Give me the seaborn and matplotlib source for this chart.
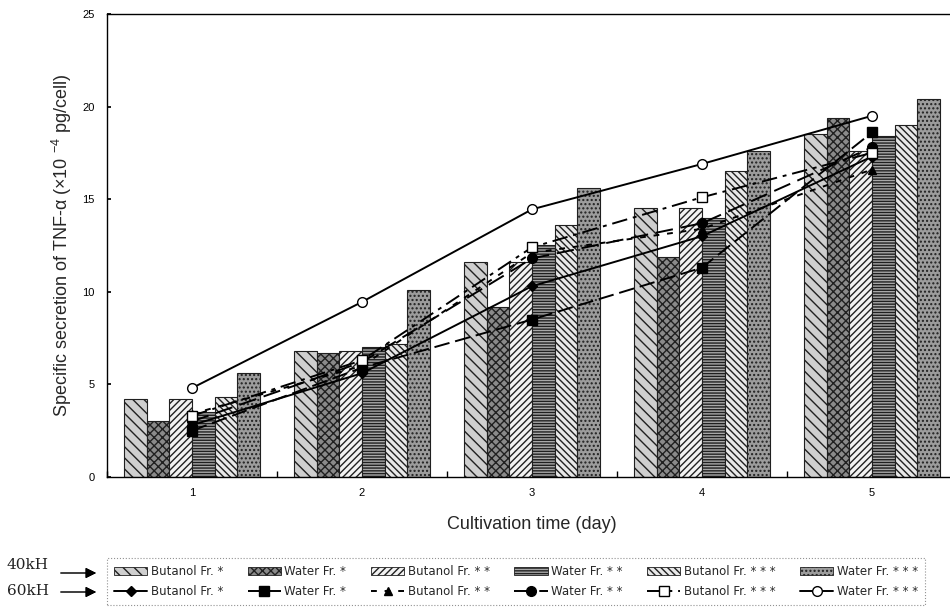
import numpy as np
import pandas as pd
import matplotlib
matplotlib.use("Agg")
import matplotlib.pyplot as plt
from matplotlib.patches import Patch
from matplotlib.lines import Line2D
from matplotlib.ticker import FixedLocator
import seaborn as sns

# ---- data -------------------------------------------------------------
days = ["1", "2", "3", "4", "5"]
series = ["Butanol Fr. *", "Water Fr. *", "Butanol Fr. * *",
          "Water Fr. * *", "Butanol Fr. * * *", "Water Fr. * * *"]

# 40 kHz (bars)
bar_butanol_1 = [4.2, 6.8, 11.6, 14.5, 18.5]
bar_water_1 = [3.0, 6.7, 9.2, 11.9, 19.4]
bar_butanol_2 = [4.2, 6.8, 11.6, 14.5, 17.6]
bar_water_2 = [3.5, 7.0, 12.5, 14.0, 18.4]
bar_butanol_3 = [4.3, 7.2, 13.6, 16.5, 19.0]
bar_water_3 = [5.6, 10.1, 15.6, 17.6, 20.4]

# 60 kHz (lines)
line_butanol_1 = [2.8, 5.6, 10.3, 13.0, 17.3]
line_water_1 = [2.5, 5.9, 8.5, 11.3, 18.6]
line_butanol_2 = [3.4, 6.0, 12.1, 13.4, 16.6]
line_water_2 = [3.0, 6.2, 11.8, 13.7, 17.8]
line_butanol_3 = [3.3, 6.3, 12.4, 15.1, 17.5]
line_water_3 = [4.8, 9.45, 14.45, 16.9, 19.5]

bar_values = [bar_butanol_1, bar_water_1, bar_butanol_2,
              bar_water_2, bar_butanol_3, bar_water_3]
line_values = [line_butanol_1, line_water_1, line_butanol_2,
               line_water_2, line_butanol_3, line_water_3]

df = pd.DataFrame({
    "day": np.repeat([days], len(series), axis=0).ravel(),
    "series": np.repeat(series, len(days)),
    "value": np.concatenate(bar_values),
})

# ---- style ------------------------------------------------------------
sns.set_theme(style="white")
plt.rcParams["font.family"] = ["Liberation Sans", "DejaVu Sans"]
plt.rcParams["mathtext.fontset"] = "custom"
plt.rcParams["mathtext.rm"] = "Liberation Sans"
plt.rcParams["hatch.linewidth"] = 1.0

bar_faces = ["#cfcfcf", "#8a8a8a", "#f2f2f2", "#a8a8a8", "#e8e8e8", "#9c9c9c"]
bar_hatches = ["\\\\\\", "xxxx", "/////", "------", "\\\\\\\\\\", "...."]

line_styles = ["-", (0, (8, 3)), (0, (3, 4)), (0, (9, 4)), (0, (8, 3, 2, 3)), "-"]
line_markers = ["D", "s", "^", "o", "s", "o"]
marker_faces = ["black", "black", "black", "black", "white", "white"]
marker_sizes = [5, 7, 6, 7, 7, 7]

fig = plt.figure(figsize=(9.5, 6.07), dpi=100)
ax = fig.add_axes([0.1126, 0.2142, 0.8947, 0.7628])

sns.barplot(data=df, x="day", y="value", hue="series", order=days,
            hue_order=series, palette=bar_faces, width=0.8,
            edgecolor="black", linewidth=0.8, saturation=1,
            legend=False, errorbar=None, ax=ax)

for cont, hatch, face in zip(ax.containers, bar_hatches, bar_faces):
    for patch in cont:
        patch.set_hatch(hatch)
        patch.set_facecolor(face)
        patch.set_edgecolor("#202020")

pos = np.arange(len(days))
for vals, ls, mk, mf, ms in zip(line_values, line_styles, line_markers,
                                 marker_faces, marker_sizes):
    ax.plot(pos, vals, color="black", linestyle=ls, linewidth=1.4,
            marker=mk, markerfacecolor=mf, markeredgecolor="black",
            markersize=ms, zorder=5)

ax.set_xlim(-0.5, 4.5)
ax.set_ylim(0, 25)
ax.set_yticks([0, 5, 10, 15, 20, 25])
# category ticks sit between the day groups
ax.xaxis.set_minor_locator(FixedLocator(np.arange(-0.5, 5.0, 1.0)))
ax.tick_params(axis="x", which="major", length=0, pad=8, labelsize=8,
               colors="black")
ax.tick_params(axis="x", which="minor", direction="in", length=4,
               bottom=True, color="black")
ax.tick_params(axis="y", direction="in", length=3, pad=9, labelsize=8,
               left=True, colors="black")
for name, sp in ax.spines.items():
    sp.set_color("black")
    sp.set_linewidth(1.0)

ax.set_xlabel("Cultivation time (day)", fontsize=13, labelpad=13)
ax.set_ylabel("Specific secretion of TNF-α (×10 $^{-4}$ pg/cell)",
              fontsize=13, labelpad=6)

# ---- legend: bars on the first row, lines on the second ---------------
handles, labels = [], []
for i in range(len(series)):
    handles.append(Patch(facecolor=bar_faces[i], hatch=bar_hatches[i],
                         edgecolor="#202020", linewidth=0.6))
    labels.append(series[i])
    handles.append(Line2D([0], [0], color="black", linestyle=line_styles[i],
                          linewidth=1.4, marker=line_markers[i],
                          markerfacecolor=marker_faces[i],
                          markeredgecolor="black", markersize=marker_sizes[i]))
    labels.append(series[i])

leg = fig.legend(handles, labels, ncol=6, loc="upper left",
                 bbox_to_anchor=(0.1126, 1 - 558 / 607),
                 frameon=True, fancybox=False,
                 prop={"family": ["Liberation Sans Narrow", "DejaVu Sans"],
                       "size": 8.5},
                 handlelength=2.8, handleheight=0.6, handletextpad=0.3,
                 columnspacing=2.1, labelspacing=0.6, borderpad=0.6,
                 borderaxespad=0)
leg.get_frame().set_edgecolor("#777777")
leg.get_frame().set_linestyle(":")
leg.get_frame().set_linewidth(0.8)

for txt, ty, ay in [("40kH", 1 - 565 / 607, 1 - 573 / 607),
                    ("60kH", 1 - 591 / 607, 1 - 592 / 607)]:
    fig.text(0.007, ty, txt, fontsize=11, family="DejaVu Serif",
             va="center", ha="left", color="#222222")
    fig.add_artist(plt.annotate(
        "", xy=(0.104, ay), xytext=(0.061, ay), xycoords="figure fraction",
        arrowprops=dict(arrowstyle="-|>", color="black", lw=0.7,
                        mutation_scale=16)))

fig.savefig("out.png", dpi=100)
